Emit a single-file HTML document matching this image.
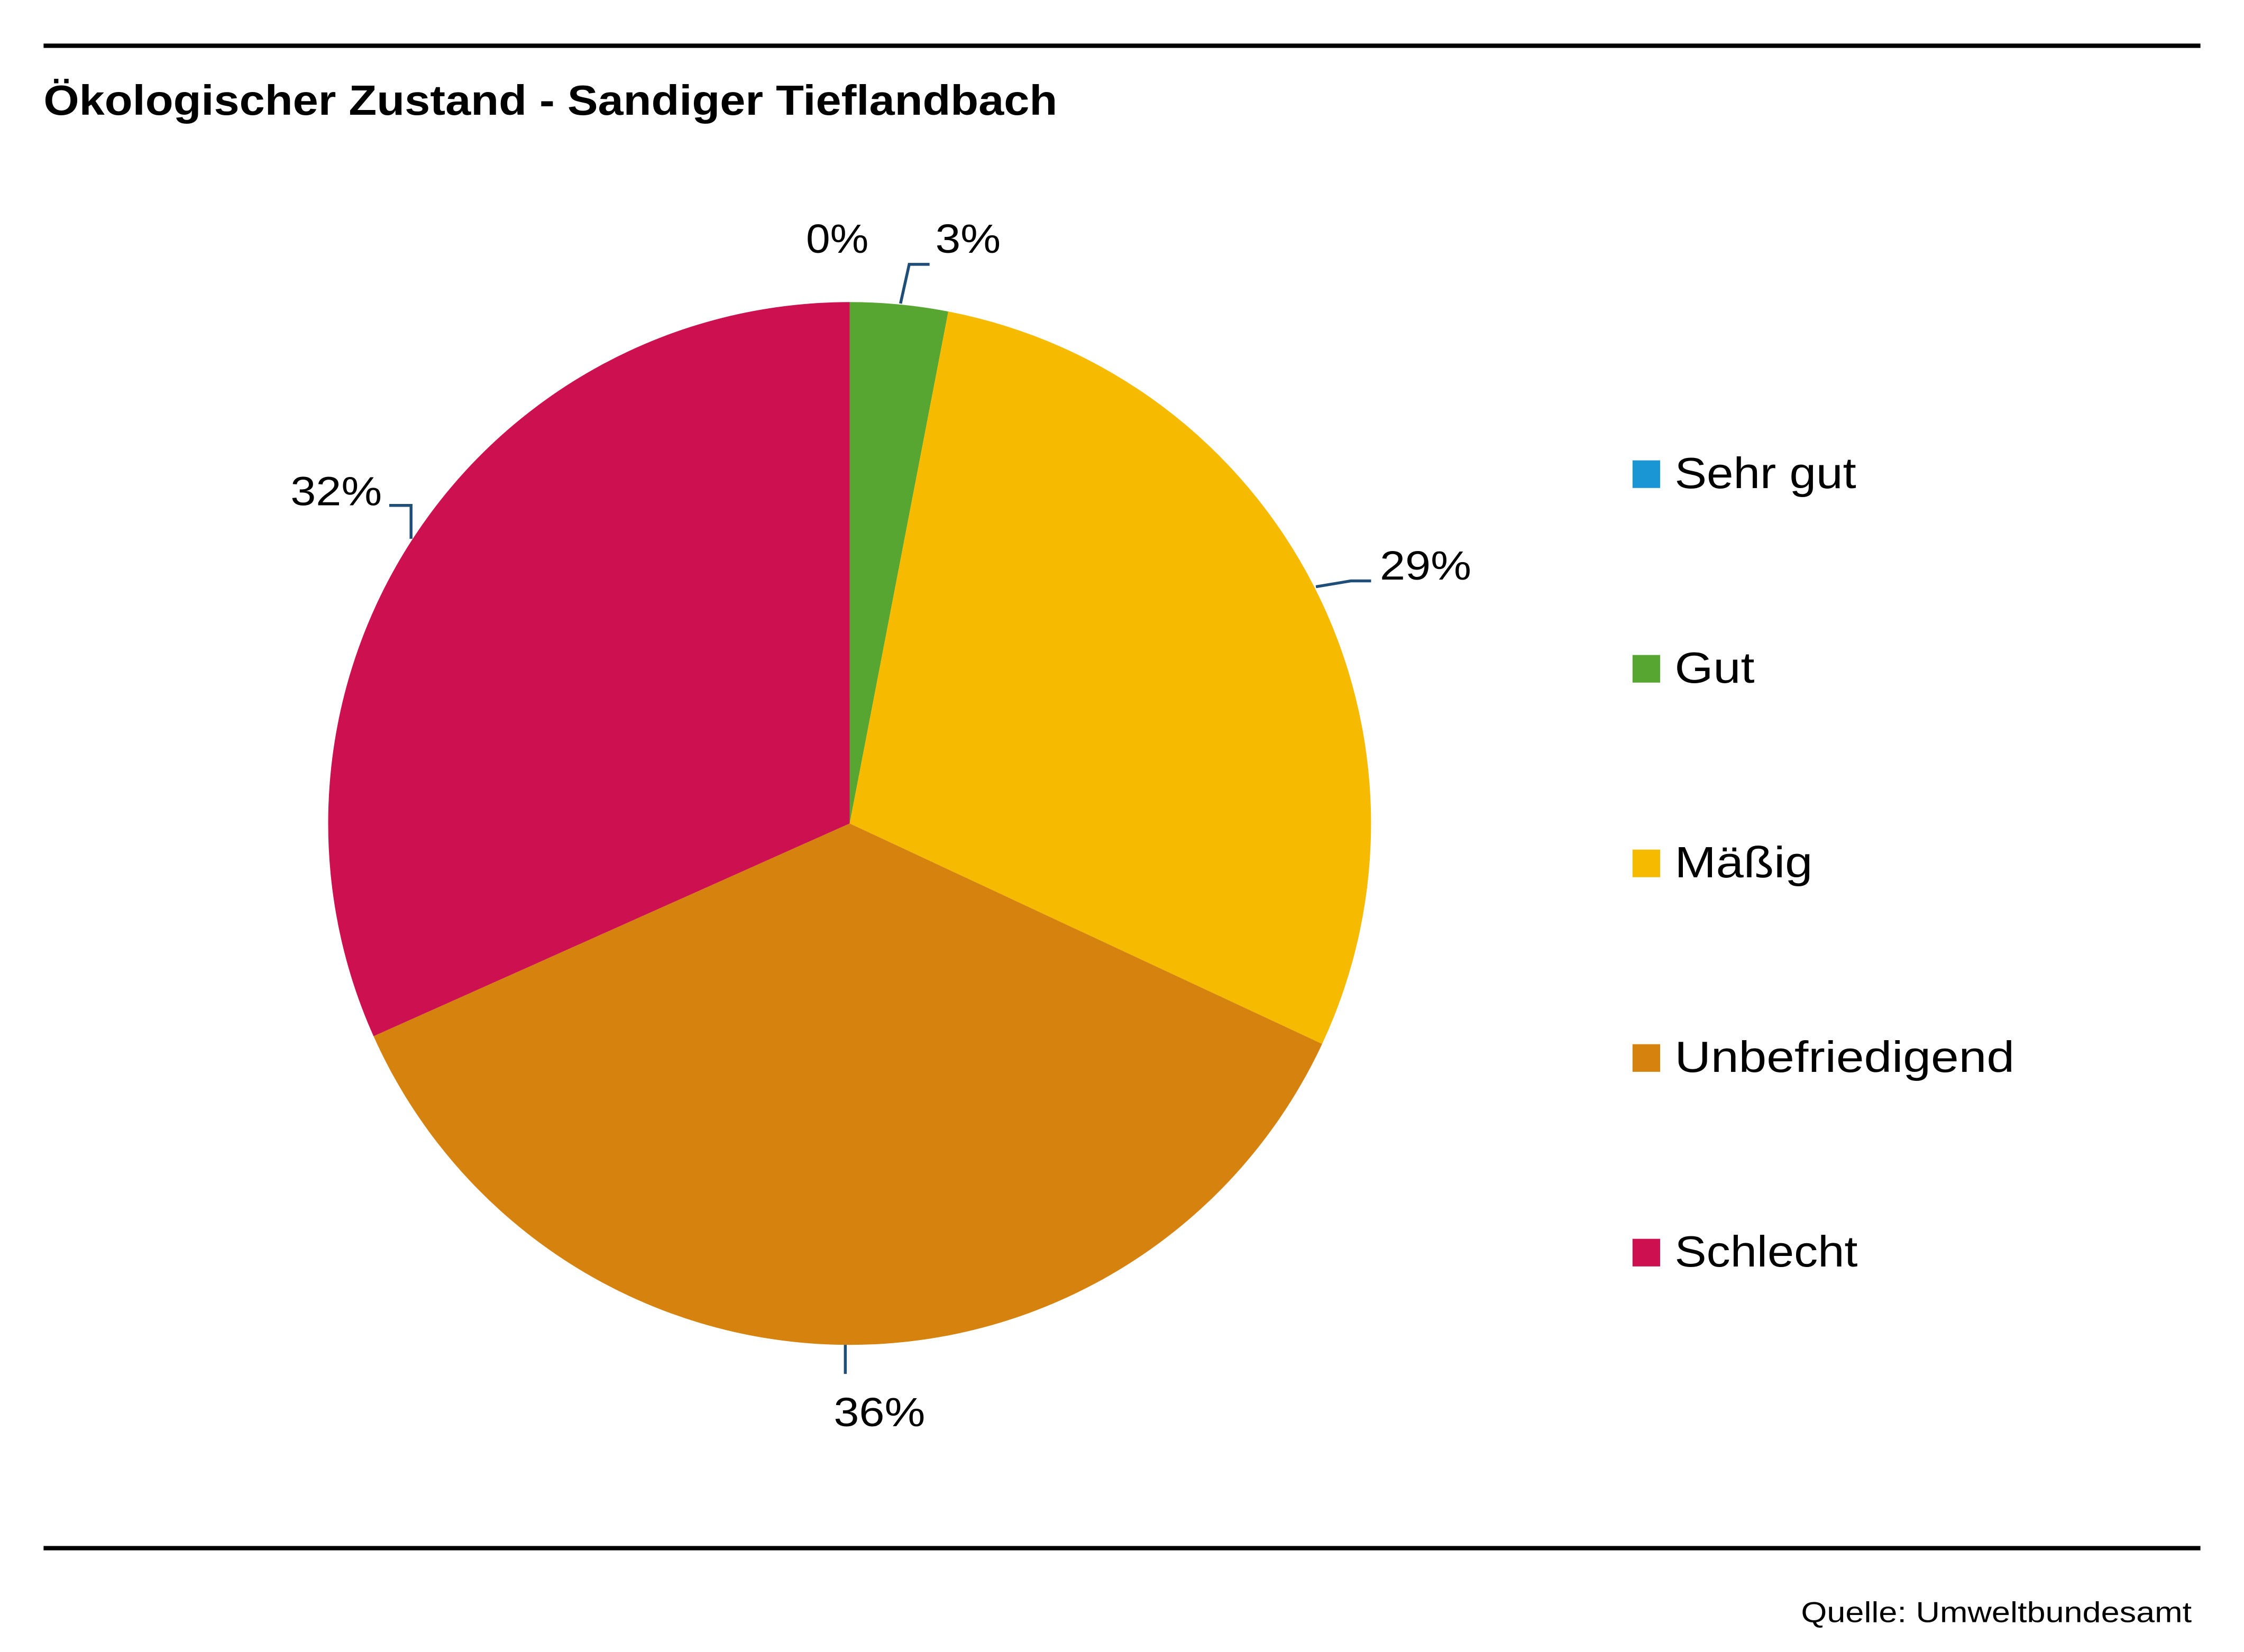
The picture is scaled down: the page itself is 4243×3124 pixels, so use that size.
<!DOCTYPE html>
<html><head><meta charset="utf-8"><style>html,body{margin:0;padding:0;background:#fff}svg{display:block}</style></head>
<body>
<svg width="4243" height="3124" viewBox="0 0 1545 1137.5" preserveAspectRatio="none" xmlns="http://www.w3.org/2000/svg" font-family="Liberation Sans, sans-serif">
<rect width="1545" height="1138" fill="#fff"/>
<line x1="30" y1="31.5" x2="1515" y2="31.5" stroke="#000" stroke-width="3"/>
<line x1="30" y1="1066" x2="1515" y2="1066" stroke="#000" stroke-width="3"/>
<text x="30" y="79" font-size="29" font-weight="bold" textLength="698" lengthAdjust="spacingAndGlyphs">Ökologischer Zustand - Sandiger Tieflandbach</text>
<path d="M585,567 L585,208 A359,359 0 0 1 652.9,214.5 Z" fill="#57a632"/>
<path d="M585,567 L652.9,214.5 A359,359 0 0 1 910.3,718.8 Z" fill="#f6bb00"/>
<path d="M585,567 L910.3,718.8 A359,359 0 0 1 257.2,713.5 Z" fill="#d6820f"/>
<path d="M585,567 L257.2,713.5 A359,359 0 0 1 585,208 Z" fill="#cc1050"/>
<g stroke="#1f4e79" stroke-width="2" fill="none">
<polyline points="620,209 626,182 640,182"/>
<polyline points="906,404 930,400 944,400"/>
<polyline points="268,348 283,348 283,371"/>
<polyline points="582,926 582,946"/>
</g>
<g font-size="28" fill="#000">
<text x="555" y="174" textLength="43" lengthAdjust="spacingAndGlyphs">0%</text>
<text x="644" y="174" textLength="45" lengthAdjust="spacingAndGlyphs">3%</text>
<text x="950" y="399" textLength="63" lengthAdjust="spacingAndGlyphs">29%</text>
<text x="200" y="348" textLength="63" lengthAdjust="spacingAndGlyphs">32%</text>
<text x="574" y="982" textLength="63" lengthAdjust="spacingAndGlyphs">36%</text>
</g>
<rect x="1124" y="317" width="19" height="19" fill="#1a96d4"/>
<rect x="1124" y="451" width="19" height="19" fill="#57a632"/>
<rect x="1124" y="585" width="19" height="19" fill="#f6bb00"/>
<rect x="1124" y="719" width="19" height="19" fill="#d6820f"/>
<rect x="1124" y="853" width="19" height="19" fill="#cc1050"/>
<g font-size="30" fill="#000">
<text x="1153" y="336" textLength="125" lengthAdjust="spacingAndGlyphs">Sehr gut</text>
<text x="1153" y="470" textLength="55" lengthAdjust="spacingAndGlyphs">Gut</text>
<text x="1153" y="604" textLength="95" lengthAdjust="spacingAndGlyphs">Mäßig</text>
<text x="1153" y="738" textLength="234" lengthAdjust="spacingAndGlyphs">Unbefriedigend</text>
<text x="1153" y="872" textLength="126" lengthAdjust="spacingAndGlyphs">Schlecht</text>
</g>
<text x="1240" y="1117" font-size="20" textLength="269" lengthAdjust="spacingAndGlyphs">Quelle: Umweltbundesamt</text>
</svg>
</body></html>
